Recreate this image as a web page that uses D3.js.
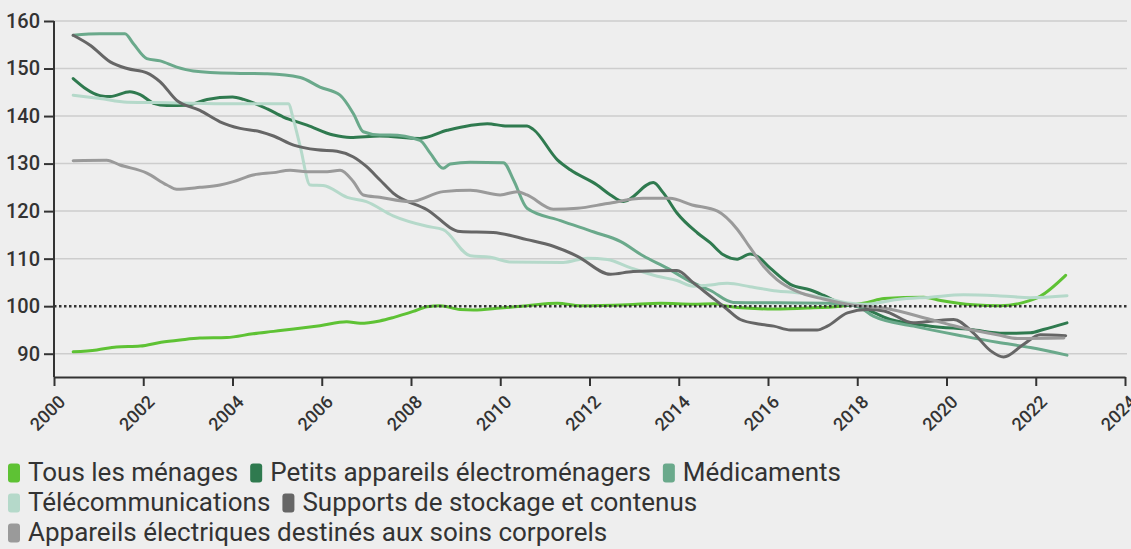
<!DOCTYPE html>
<html>
<head>
<meta charset="utf-8">
<script src="https://cdn.jsdelivr.net/npm/d3@7"></script>
<style>
  html, body { margin: 0; padding: 0; background: #eeeeee; }
  svg { display: block; }
  text { font-family: Roboto, "Noto Sans", sans-serif; }
</style>
</head>
<body>
<svg id="chart" width="1131" height="549"></svg>
<script>
// ---- Data (years as decimal, values index 2018 = 100) ----
const yTicks = [90, 100, 110, 120, 130, 140, 150, 160];
const xTicks = [2000, 2002, 2004, 2006, 2008, 2010, 2012, 2014, 2016, 2018, 2020, 2022, 2024];

const seriesNames = [
  "Tous les ménages",
  "Petits appareils électroménagers",
  "Médicaments",
  "Télécommunications",
  "Supports de stockage et contenus",
  "Appareils électriques destinés aux soins corporels"
];
const seriesColors = ["#5ec234", "#2f7a4f", "#6aa98b", "#b5d9ca", "#666666", "#9a9a9a"];

const tousLesMenages = [
  [2000.43,90.4],[2000.96,90.8],[2001.4,91.4],[2001.93,91.6],[2002.4,92.4],[2002.83,92.9],[2003.27,93.3],[2003.87,93.4],
  [2004.46,94.2],[2004.92,94.7],[2005.37,95.2],[2005.96,95.9],[2006.56,96.7],[2006.86,96.4],[2007.3,96.9],[2007.6,97.6],
  [2008.05,98.9],[2008.36,99.9],[2008.65,100.1],[2009.1,99.3],[2009.4,99.2],[2010.0,99.6],[2010.6,100.1],[2011.28,100.6],
  [2011.8,100.1],[2012.85,100.3],[2013.6,100.6],[2014.33,100.4],[2014.78,100.5],[2015.1,100.0],[2015.5,99.6],[2016.13,99.4],
  [2016.88,99.6],[2017.62,100.0],[2018.23,100.8],[2018.6,101.6],[2019.49,101.9],[2019.87,101.2],[2020.6,100.3],[2021.2,100.1],
  [2021.73,100.8],[2022.1,102.1],[2022.67,106.5]
];
const petitsAppareils = [
  [2000.43,147.9],[2001.03,144.3],[2001.26,144.1],[2001.7,145.1],[2001.93,144.5],[2002.23,142.7],[2002.53,142.2],[2002.98,142.3],
  [2003.43,143.5],[2004.0,144.0],[2004.25,143.5],[2004.78,141.5],[2005.14,139.8],[2005.67,138.1],[2006.26,136.0],[2006.64,135.5],
  [2007.3,135.8],[2008.2,135.3],[2008.81,137.0],[2009.71,138.4],[2010.15,137.9],[2010.6,137.9],[2010.74,137.2],[2011.28,130.8],
  [2011.57,128.7],[2012.17,125.5],[2012.47,123.4],[2012.76,122.0],[2013.43,126.0],[2013.65,123.9],[2013.96,119.6],[2014.42,115.4],
  [2014.71,113.3],[2015.0,110.8],[2015.31,109.9],[2015.6,111.0],[2015.76,110.5],[2016.05,108.0],[2016.5,104.6],[2016.95,103.4],
  [2017.24,102.3],[2017.69,100.4],[2018.0,100.0],[2018.74,97.2],[2019.64,95.8],[2020.54,95.1],[2021.28,94.3],[2021.88,94.4],
  [2022.17,95.1],[2022.7,96.5]
];
const medicaments = [
  [2000.43,157.0],[2001.03,157.3],[2001.59,157.3],[2001.78,155.2],[2002.08,152.1],[2002.38,151.6],[2002.75,150.3],[2003.12,149.5],
  [2004.02,149.0],[2004.78,148.9],[2005.52,148.1],[2005.96,146.1],[2006.41,144.4],[2006.71,140.5],[2006.93,136.7],[2007.3,136.0],
  [2007.53,136.0],[2008.2,134.9],[2008.43,132.2],[2008.72,129.0],[2008.88,129.9],[2009.33,130.3],[2010.07,130.2],[2010.3,126.5],
  [2010.6,120.6],[2011.35,118.0],[2012.1,115.6],[2012.7,113.6],[2013.2,110.6],[2013.74,108.0],[2014.3,105.0],[2014.71,103.3],
  [2015.22,100.8],[2016.2,100.7],[2017.33,100.6],[2018.0,100.0],[2018.36,97.9],[2019.26,95.8],[2020.38,93.7],[2021.14,92.4],
  [2021.88,91.3],[2022.7,89.7]
];
const telecommunications = [
  [2000.43,144.4],[2001.03,143.7],[2001.64,142.9],[2002.53,142.8],[2004.0,142.6],[2005.25,142.6],[2005.37,139.1],[2005.52,133.5],
  [2005.74,125.5],[2006.03,125.4],[2006.57,122.9],[2007.0,122.0],[2007.6,119.0],[2008.36,116.8],[2008.72,116.1],[2009.33,110.6],
  [2009.78,110.3],[2010.22,109.3],[2011.41,109.2],[2011.95,110.1],[2012.4,109.8],[2012.91,108.1],[2013.52,106.3],[2013.96,105.4],
  [2014.33,104.2],[2014.64,104.4],[2015.09,104.8],[2015.6,104.1],[2016.2,103.2],[2016.65,102.8],[2017.24,101.8],[2017.85,100.6],
  [2018.15,100.4],[2018.9,101.4],[2019.64,101.9],[2020.38,102.4],[2021.14,102.2],[2021.88,101.8],[2022.7,102.2]
];
const supportsStockage = [
  [2000.43,157.0],[2000.81,154.9],[2001.26,151.4],[2001.64,150.0],[2002.08,149.1],[2002.38,147.2],[2002.75,143.3],[2003.27,141.2],
  [2003.72,138.8],[2004.17,137.4],[2004.62,136.7],[2004.92,135.8],[2005.37,133.9],[2005.9,132.9],[2006.34,132.6],[2006.71,131.4],
  [2007.0,129.4],[2007.3,126.6],[2007.6,123.8],[2008.36,120.3],[2009.1,115.7],[2009.84,115.5],[2010.6,114.0],[2011.19,112.6],
  [2011.73,110.5],[2012.47,106.7],[2012.98,107.3],[2013.96,107.5],[2014.33,104.9],[2014.71,102.1],[2015.09,99.3],[2015.38,97.2],
  [2015.83,96.2],[2016.13,95.8],[2016.5,95.0],[2017.1,95.0],[2017.33,95.8],[2017.78,98.6],[2018.23,99.3],[2018.6,99.0],
  [2019.26,96.5],[2019.71,96.9],[2020.16,97.2],[2020.6,94.4],[2020.99,90.6],[2021.28,89.3],[2021.73,92.0],[2022.1,94.0],
  [2022.67,93.8]
];
const appareilsSoins = [
  [2000.43,130.6],[2001.18,130.7],[2001.48,129.7],[2002.08,128.0],[2002.53,125.5],[2002.75,124.6],[2003.27,125.0],[2003.72,125.5],
  [2004.02,126.2],[2004.46,127.6],[2004.92,128.1],[2005.29,128.6],[2005.67,128.3],[2006.12,128.3],[2006.41,128.6],[2006.71,126.2],
  [2006.93,123.4],[2007.3,122.9],[2007.98,122.0],[2008.72,124.1],[2009.33,124.4],[2010.0,123.4],[2010.38,124.1],[2010.6,123.4],
  [2011.19,120.4],[2011.73,120.6],[2012.4,121.6],[2013.2,122.7],[2013.8,122.7],[2014.3,121.3],[2014.87,120.0],[2015.31,116.2],
  [2015.6,112.3],[2015.9,108.4],[2016.2,105.6],[2016.65,103.1],[2017.24,101.5],[2017.85,100.3],[2018.6,99.6],[2019.64,97.2],
  [2020.38,95.4],[2021.14,94.0],[2021.59,93.2],[2022.63,93.3]
];
const seriesData = [tousLesMenages, petitsAppareils, medicaments, telecommunications, supportsStockage, appareilsSoins];

// ---- Layout ----
const svg = d3.select("#chart");
const x = d3.scaleLinear().domain([2000, 2024]).range([54, 1125]);
const y = d3.scaleLinear().domain([85.1, 160]).range([377, 21]);

// gridlines
svg.append("g")
  .selectAll("line")
  .data(yTicks.filter(d => d !== 100))
  .join("line")
  .attr("x1", x(2000)).attr("x2", 1127)
  .attr("y1", d => y(d)).attr("y2", d => y(d))
  .attr("stroke", "#cdcdcd").attr("stroke-width", 1.5);

// series lines
const line = d3.line()
  .x(d => x(d[0]))
  .y(d => y(d[1]))
  .curve(d3.curveMonotoneX);

svg.append("g")
  .selectAll("path")
  .data(seriesData)
  .join("path")
  .attr("d", line)
  .attr("fill", "none")
  .attr("stroke", (d, i) => seriesColors[i])
  .attr("stroke-width", 3)
  .attr("stroke-linejoin", "round")
  .attr("stroke-linecap", "round");

// reference line at 100
svg.append("line")
  .attr("x1", x(2000)).attr("x2", 1127)
  .attr("y1", y(100)).attr("y2", y(100))
  .attr("stroke", "#333").attr("stroke-width", 2.5)
  .attr("stroke-dasharray", "2.5,2.5");

// y axis
const yAxis = svg.append("g")
  .attr("transform", `translate(${x(2000)},0)`)
  .call(d3.axisLeft(y).tickValues(yTicks).tickSize(10).tickSizeOuter(0).tickPadding(4));
yAxis.select(".domain").attr("stroke", "#333").attr("stroke-width", 2)
  .attr("d", `M0,${y(160)}V${y.range()[0]}`);
yAxis.selectAll(".tick line").attr("stroke", "#333").attr("stroke-width", 2);
yAxis.selectAll(".tick text")
  .attr("fill", "#333")
  .style("font-size", "20px")
  .style("font-weight", "500");

// x axis
const xAxis = svg.append("g")
  .attr("transform", `translate(0,${y.range()[0]})`)
  .call(d3.axisBottom(x).tickValues(xTicks).tickFormat(d3.format("d")).tickSize(9).tickSizeOuter(0));
xAxis.select(".domain").attr("stroke", "#333").attr("stroke-width", 2);
xAxis.selectAll(".tick line").attr("stroke", "#333").attr("stroke-width", 2);
xAxis.selectAll(".tick text")
  .attr("fill", "#333")
  .style("font-size", "18px")
  .style("font-weight", "500")
  .style("text-anchor", "end")
  .attr("x", 0).attr("y", 0).attr("dy", 0)
  .attr("transform", "translate(12,26) rotate(-45)");

// legend (flowing rows)
const legend = svg.append("g").attr("transform", "translate(8,472)");
const maxW = 900, rowH = 30, swW = 12, swH = 19, gapSw = 8, gapItem = 12;
let cx = 0, row = 0;
seriesNames.forEach((name, i) => {
  const g = legend.append("g");
  const t = g.append("text")
    .attr("x", swW + gapSw).attr("y", 0).attr("dy", "0.35em")
    .attr("fill", "#333")
    .style("font-size", "26px")
    .text(name);
  g.insert("rect", "text")
    .attr("x", 0).attr("y", -swH / 2 + 1)
    .attr("width", swW).attr("height", swH)
    .attr("rx", 3).attr("ry", 3)
    .attr("fill", seriesColors[i]);
  const w = swW + gapSw + t.node().getComputedTextLength();
  if (cx > 0 && cx + w > maxW) { cx = 0; row += 1; }
  g.attr("transform", `translate(${cx},${row * rowH})`);
  cx += w + gapItem;
});
</script>
</body>
</html>
